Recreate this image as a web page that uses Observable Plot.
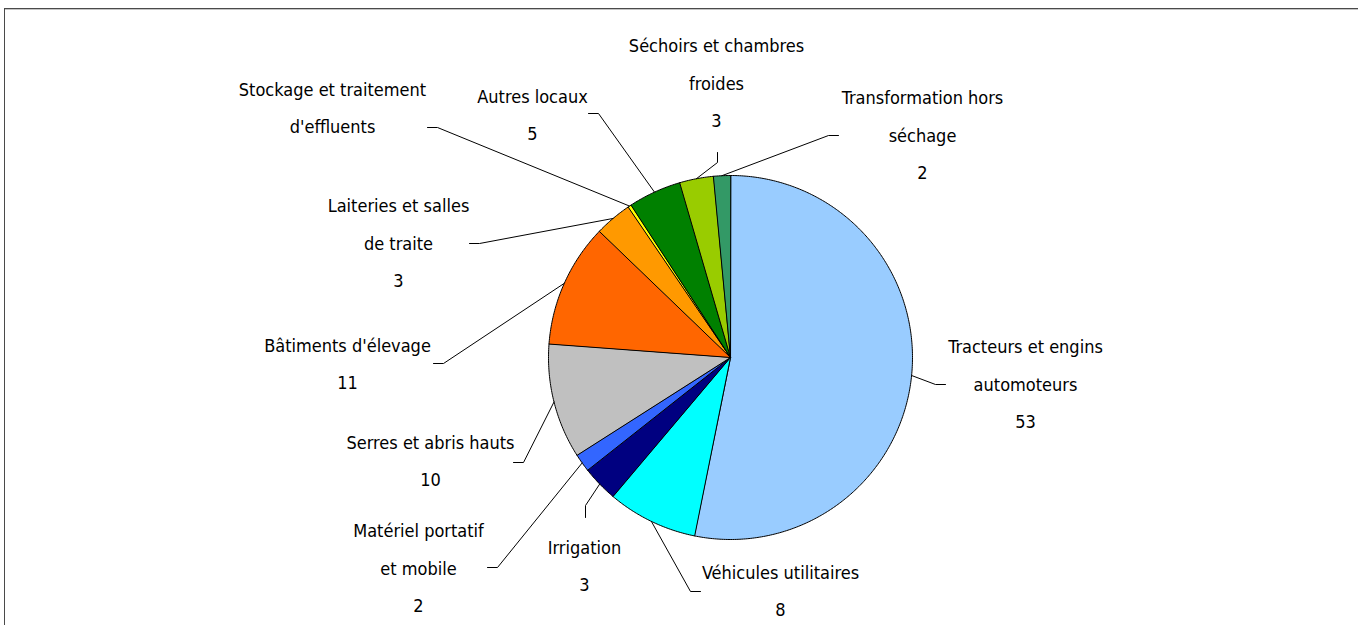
<!DOCTYPE html>
<html><head><meta charset="utf-8">
<script src="https://cdn.jsdelivr.net/npm/d3@7"></script>
<script src="https://cdn.jsdelivr.net/npm/@observablehq/plot@0.6"></script>
<style>
html,body{margin:0;padding:0;background:#fff;}
#wrap{position:relative;width:1358px;height:625px;overflow:hidden;}
#chart{position:absolute;left:0;top:0;}
#frame{position:absolute;left:4px;top:8px;right:-2px;bottom:-2px;border-top:1px solid #4a4a4a;border-left:1px solid #4a4a4a;pointer-events:none;}
#frame::after{content:"";position:absolute;left:0;right:0;top:0;height:1px;background:#c4c4c4;}
</style></head><body>
<div id="wrap"><div id="chart"></div><div id="frame"></div></div>
<script>
// ---- data ----
const categories = [
  "Tracteurs et engins\nautomoteurs",
  "Véhicules utilitaires",
  "Irrigation",
  "Matériel portatif\net mobile",
  "Serres et abris hauts",
  "Bâtiments d'élevage",
  "Laiteries et salles\nde traite",
  "Stockage et traitement\nd'effluents",
  "Autres locaux",
  "Séchoirs et chambres\nfroides",
  "Transformation hors\nséchage"
];
const values = [53.1, 8.0, 3.2, 1.6, 10.2, 11.0, 3.3, 0.3, 4.7, 3.0, 1.5];
const valueLabels = ["53", "8", "3", "2", "10", "11", "3", "", "5", "3", "2"];
const colors = ["#99CCFF", "#00FFFF", "#000080", "#3366FF", "#C0C0C0", "#FF6600",
                "#FF9900", "#FFFF00", "#008000", "#99CC00", "#339966"];

// ---- layout (pixels) ----
const W = 1358, H = 625;
const CX = 730, CY = 357, R = 182;
const labelLayout = [
  {tx: 1025, ty: 384, ax: 945, ay: 384, side: "left"},
  {tx: 780,  ty: 591, ax: 700, ay: 591, side: "left"},
  {tx: 584,  ty: 566, ax: 585, ay: 517, side: "top"},
  {tx: 418,  ty: 568, ax: 487, ay: 567, side: "right"},
  {tx: 430,  ty: 461, ax: 513, ay: 462, side: "right"},
  {tx: 347,  ty: 364, ax: 433, ay: 363, side: "right"},
  {tx: 398,  ty: 243, ax: 469, ay: 243, side: "right"},
  {tx: 332,  ty: 108, ax: 427, ay: 127, side: "right"},
  {tx: 532,  ty: 115, ax: 588, ay: 113, side: "right"},
  {tx: 716,  ty: 83,  ax: 717, ay: 152, side: "bottom"},
  {tx: 922,  ty: 135, ax: 838, ay: 135, side: "left"}
];
const FONT = "'DejaVu Sans Condensed', 'Liberation Sans Narrow', sans-serif";
const FS = 18;
const TEXT_DY = -6;

// ---- geometry from data ----
const total = d3.sum(values);
let cum = 0;
const slices = values.map((v, i) => {
  const a0 = cum / total * 2 * Math.PI;
  cum += v;
  const a1 = cum / total * 2 * Math.PI;
  return {i, a0, a1, mid: (a0 + a1) / 2};
});
const pt = (a, r) => ({x: CX + r * Math.sin(a), y: CY - r * Math.cos(a)});

const sliceMarks = slices.map(s => {
  const n = Math.max(2, Math.ceil((s.a1 - s.a0) / 0.01));
  const pts = [{x: CX, y: CY}];
  for (let k = 0; k <= n; k++) pts.push(pt(s.a0 + (s.a1 - s.a0) * k / n, R));
  return Plot.line(pts, {x: "x", y: "y", curve: "linear-closed", fill: colors[s.i],
                         stroke: "#000", strokeWidth: 1, strokeLinejoin: "round"});
});

const elbowOff = {left: [-10, 0], right: [10, 0], top: [0, -12], bottom: [0, 10]};
const leaderMarks = slices.map(s => {
  const L = labelLayout[s.i];
  const o = elbowOff[L.side];
  const pts = [pt(s.mid, R), {x: L.ax + o[0], y: L.ay + o[1]}, {x: L.ax, y: L.ay}];
  return Plot.line(pts, {x: "x", y: "y", stroke: "#000", strokeWidth: 1});
});

const labels = slices.map(s => ({
  x: labelLayout[s.i].tx, y: labelLayout[s.i].ty,
  text: valueLabels[s.i] ? categories[s.i] + "\n" + valueLabels[s.i] : categories[s.i]
}));

const chart = Plot.plot({
  width: W, height: H, margin: 0,
  x: {domain: [0, W], range: [0, W], axis: null},
  y: {domain: [0, H], range: [0, H], axis: null},
  style: {background: "transparent", fontFamily: FONT},
  marks: [
    ...sliceMarks,
    ...leaderMarks,
    Plot.text(labels, {x: "x", y: "y", text: "text", fontSize: FS, lineHeight: 37.5 / FS,
                       lineAnchor: "middle", textAnchor: "middle", fill: "#000",
                       fontFamily: FONT, dy: TEXT_DY})
  ]
});
document.getElementById("chart").appendChild(chart);
</script>
</body></html>
